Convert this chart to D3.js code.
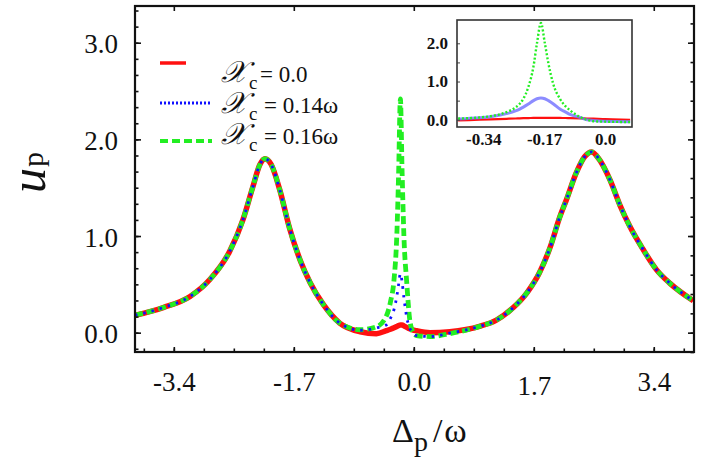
<!DOCTYPE html>
<html>
<head>
<meta charset="utf-8">
<script src="https://cdn.jsdelivr.net/npm/d3@7"></script>
<style>
  html, body { margin: 0; padding: 0; background: #fff; }
  svg { display: block; }
</style>
</head>
<body>
<svg id="chart" width="706" height="464" font-family="Liberation Serif"></svg>
<script>
// values
const mainX = [-3.95, -3.55, -3.17, -2.89, -2.61, -2.42, -2.28, -2.18, -2.11, -2.02, -1.90, -1.76,
  -1.61, -1.47, -1.28, -1.05, -0.76, -0.53, -0.39, -0.33, -0.28, -0.24, -0.215, -0.19, -0.165,
  -0.14, -0.10, -0.06, -0.02, 0.04, 0.23, 0.51, 0.93, 1.17, 1.41, 1.60, 1.78, 1.93, 2.07, 2.16,
  2.30, 2.42, 2.52, 2.63, 2.78, 2.92, 3.06, 3.25, 3.44, 3.63, 3.96];
const redY = [0.18, 0.26, 0.375, 0.55, 0.84, 1.17, 1.51, 1.74, 1.80, 1.74, 1.48, 1.08,
  0.75, 0.52, 0.29, 0.10, 0.01, -0.01, 0.02, 0.035, 0.05, 0.065, 0.075, 0.08, 0.08,
  0.07, 0.055, 0.04, 0.03, 0.02, 0.0, 0.01, 0.065, 0.13, 0.26, 0.41, 0.62, 0.88, 1.20, 1.37,
  1.65, 1.82, 1.87, 1.79, 1.58, 1.32, 1.10, 0.86, 0.65, 0.51, 0.33];
const blueY = [0.18, 0.26, 0.375, 0.55, 0.84, 1.17, 1.51, 1.74, 1.80, 1.74, 1.48, 1.08,
  0.75, 0.52, 0.29, 0.10, 0.025, 0.05, 0.08, 0.15, 0.24, 0.38, 0.50, 0.61, 0.52,
  0.36, 0.16, 0.05, 0.0, -0.03, -0.04, -0.005, 0.065, 0.13, 0.26, 0.41, 0.62, 0.88, 1.20, 1.37,
  1.65, 1.82, 1.87, 1.79, 1.58, 1.32, 1.10, 0.86, 0.65, 0.51, 0.33];
const greenY = [0.18, 0.26, 0.375, 0.55, 0.84, 1.17, 1.51, 1.74, 1.80, 1.74, 1.48, 1.08,
  0.75, 0.52, 0.29, 0.10, 0.03, 0.06, 0.17, 0.32, 0.55, 1.02, 1.65, 2.42, 1.65,
  1.0, 0.52, 0.15, 0.02, -0.03, -0.04, -0.01, 0.065, 0.13, 0.26, 0.41, 0.62, 0.88, 1.20, 1.37,
  1.65, 1.82, 1.87, 1.79, 1.58, 1.32, 1.10, 0.86, 0.65, 0.51, 0.33];

const insetX = [-0.41, -0.35, -0.32, -0.275, -0.25, -0.238, -0.228, -0.214, -0.20, -0.19, -0.179,
  -0.168, -0.158, -0.145, -0.126, -0.11, -0.098, -0.07, -0.05, -0.033, 0.0, 0.07];
const insetRedY = [-0.02, 0.0, 0.01, 0.025, 0.032, 0.036, 0.04, 0.043, 0.047, 0.049, 0.05,
  0.05, 0.05, 0.049, 0.047, 0.045, 0.043, 0.037, 0.032, 0.027, 0.018, 0.0];
const insetBlueY = [0.02, 0.05, 0.08, 0.16, 0.23, 0.28, 0.33, 0.41, 0.50, 0.55, 0.57,
  0.55, 0.50, 0.42, 0.28, 0.20, 0.14, 0.06, 0.0, -0.02, -0.04, -0.05];
const insetGreenY = [0.03, 0.06, 0.09, 0.20, 0.32, 0.42, 0.55, 0.86, 1.38, 2.0, 2.53,
  2.0, 1.47, 0.95, 0.55, 0.35, 0.25, 0.07, 0.0, -0.04, -0.05, -0.06];

const xTicks = [-3.4, -1.7, 0, 1.7, 3.4];
const xTickLabels = ['-3.4', '-1.7', '0.0', '1.7', '3.4'];
const yTicks = [0, 1, 2, 3];
const yTickLabels = ['0.0', '1.0', '2.0', '3.0'];
const insetXTicks = [-0.34, -0.17, 0];
const insetXTickLabels = ['-0.34', '-0.17', '0.0'];
const insetYTicks = [0, 1, 2];
const insetYTickLabels = ['0.0', '1.0', '2.0'];
const legendValues = ['0.0', '0.14ω', '0.16ω'];

const RED = '#ff1010', BLUE = '#1010ff', GREEN = '#22ee22';
const SERIF = 'Liberation Serif';

const svg = d3.select('#chart');
const box = { left: 135, right: 694, top: 6, bottom: 352 };

const x = d3.scaleLinear().domain([-3.95, 3.97]).range([box.left, box.right]);
const y = d3.scaleLinear().domain([-0.2, 3.38]).range([box.bottom, box.top]);

svg.append('clipPath').attr('id', 'plot-clip')
  .append('rect')
  .attr('x', box.left).attr('y', box.top)
  .attr('width', box.right - box.left).attr('height', box.bottom - box.top);

const toPts = (xs, ys) => xs.map((v, i) => ({ x: v, y: ys[i] }));

const lineGen = d3.line().x(d => x(d.x)).y(d => y(d.y)).curve(d3.curveMonotoneX);

// red underneath, green dashes over it, blue dots on top
const series = [
  { id: 'red', values: toPts(mainX, redY), color: RED, width: 5.5, dash: null },
  { id: 'green', values: toPts(mainX, greenY), color: GREEN, width: 4.8, dash: '8 4' },
  { id: 'blue', values: toPts(mainX, blueY), color: BLUE, width: 2.8, dash: '2.5 6' },
];

const lineLayer = svg.append('g').attr('clip-path', 'url(#plot-clip)');
lineLayer.selectAll('path.series').data(series).join('path')
  .attr('class', 'series')
  .attr('fill', 'none')
  .attr('stroke', d => d.color)
  .attr('stroke-width', d => d.width)
  .attr('stroke-dasharray', d => d.dash)
  .attr('d', d => lineGen(d.values));

// axes: ticks point inward, no domain path (frame drawn separately)
const minorX = d3.range(-9, 10).map(k => k * 0.425);
const minorLeft = d3.range(-1, 21).map(k => k / 6).filter(v => v >= -0.2 && v <= 3.38);
const minorRight = d3.range(-1, 17).map(k => k / 5).filter(v => v >= -0.2 && v <= 3.38);

function styleAxis(g) {
  g.attr('font-family', SERIF);
  g.select('.domain').remove();
  g.selectAll('line').attr('stroke', '#111').attr('stroke-width', 1.6);
  g.selectAll('text').attr('fill', '#111');
}

svg.append('g').attr('transform', `translate(0,${box.bottom})`)
  .call(d3.axisBottom(x).tickValues(minorX).tickSize(-3.5).tickFormat(''))
  .call(styleAxis);
const xAxisG = svg.append('g').attr('transform', `translate(0,${box.bottom})`)
  .call(d3.axisBottom(x).tickValues(xTicks).tickSizeInner(-5).tickSizeOuter(0).tickPadding(20)
    .tickFormat((d, i) => xTickLabels[i]))
  .call(styleAxis);
xAxisG.selectAll('text').attr('font-size', 27);
// the "1.7" label sits a little lower in the original
xAxisG.selectAll('text').filter(d => d === 1.7).attr('dy', '0.86em');

svg.append('g').attr('transform', `translate(0,${box.top})`)
  .call(d3.axisTop(x).tickValues(xTicks).tickSize(-5).tickFormat(''))
  .call(styleAxis);

svg.append('g').attr('transform', `translate(${box.left},0)`)
  .call(d3.axisLeft(y).tickValues(minorLeft).tickSize(-3.5).tickFormat(''))
  .call(styleAxis);
const yAxisG = svg.append('g').attr('transform', `translate(${box.left},0)`)
  .call(d3.axisLeft(y).tickValues(yTicks).tickSizeInner(-6).tickSizeOuter(0).tickPadding(17)
    .tickFormat((d, i) => yTickLabels[i]))
  .call(styleAxis);
yAxisG.selectAll('text').attr('font-size', 27).attr('dy', '0.38em');

svg.append('g').attr('transform', `translate(${box.right},0)`)
  .call(d3.axisRight(y).tickValues(minorRight).tickSize(-3.5).tickFormat(''))
  .call(styleAxis);
svg.append('g').attr('transform', `translate(${box.right},0)`)
  .call(d3.axisRight(y).tickValues(yTicks).tickSize(-6).tickFormat(''))
  .call(styleAxis);

svg.append('rect')
  .attr('x', box.left).attr('y', box.top)
  .attr('width', box.right - box.left).attr('height', box.bottom - box.top)
  .attr('fill', 'none').attr('stroke', '#111').attr('stroke-width', 2.2);

// axis titles
const xTitle = svg.append('text').attr('x', 392).attr('y', 442)
  .attr('font-size', 34).attr('fill', '#111');
xTitle.append('tspan').text('Δ');
xTitle.append('tspan').attr('font-size', 28).attr('dy', 9).text('p');
xTitle.append('tspan').attr('dy', -9).attr('dx', 5).text('/');
xTitle.append('tspan').attr('dx', 2).text('ω');

const yTitle = svg.append('text').attr('transform', 'translate(45,193) rotate(-90)')
  .attr('fill', '#111');
yTitle.append('tspan').attr('font-size', 50).attr('font-style', 'italic').text('u');
yTitle.append('tspan').attr('font-size', 30).attr('dx', 1).attr('dy', -2).text('p');

// legend: symbol, subscript and value kept as separate texts so they do not collide
const legendRows = [
  { color: RED, width: 3.5, dash: null, x2: 186, ly: 63, ty: 82, eqX: 260 },
  { color: BLUE, width: 3.2, dash: '2 2', x2: 212, ly: 103, ty: 113, eqX: 264 },
  { color: GREEN, width: 4, dash: '8 4', x2: 212, ly: 141, ty: 144, eqX: 264 },
];
const legend = svg.append('g').attr('fill', '#111');
legendRows.forEach((r, i) => {
  legend.append('line')
    .attr('x1', 160).attr('x2', r.x2).attr('y1', r.ly).attr('y2', r.ly)
    .attr('stroke', r.color).attr('stroke-width', r.width)
    .attr('stroke-dasharray', r.dash);
  legend.append('text').attr('x', 221).attr('y', r.ty)
    .attr('font-size', 30).attr('font-style', 'italic').text('𝒳');
  legend.append('text').attr('x', 249).attr('y', r.ty + 7)
    .attr('font-size', 19).text('c');
  legend.append('text').attr('x', r.eqX).attr('y', r.ty)
    .attr('font-size', 23).text('= ' + legendValues[i]);
});

// inset
const ibox = { left: 457, right: 632, top: 20, bottom: 127 };
const ix = d3.scaleLinear().domain([-0.413, 0.075]).range([ibox.left, ibox.right]);
const iy = d3.scaleLinear().domain([-0.19, 2.61]).range([ibox.bottom, ibox.top]);
const inset = svg.append('g');
inset.append('rect')
  .attr('x', ibox.left).attr('y', ibox.top)
  .attr('width', ibox.right - ibox.left).attr('height', ibox.bottom - ibox.top)
  .attr('fill', '#fff');
svg.append('clipPath').attr('id', 'inset-clip')
  .append('rect')
  .attr('x', ibox.left).attr('y', ibox.top)
  .attr('width', ibox.right - ibox.left).attr('height', ibox.bottom - ibox.top);

const iLine = d3.line().x(d => ix(d.x)).y(d => iy(d.y)).curve(d3.curveMonotoneX);
const insetSeries = [
  { id: 'red', values: toPts(insetX, insetRedY), color: RED, width: 2.2, dash: null, op: 1 },
  { id: 'blue', values: toPts(insetX, insetBlueY), color: '#6f6fff', width: 3, dash: null, op: 0.8 },
  { id: 'green', values: toPts(insetX, insetGreenY), color: GREEN, width: 2.4, dash: '2 2', op: 1 },
];
inset.append('g').attr('clip-path', 'url(#inset-clip)')
  .selectAll('path').data(insetSeries).join('path')
  .attr('fill', 'none')
  .attr('stroke', d => d.color)
  .attr('stroke-width', d => d.width)
  .attr('stroke-dasharray', d => d.dash)
  .attr('stroke-opacity', d => d.op)
  .attr('d', d => iLine(d.values));

function styleInsetAxis(g) {
  g.attr('font-family', SERIF);
  g.select('.domain').remove();
  g.selectAll('line').attr('stroke', '#444').attr('stroke-width', 1);
  g.selectAll('text').attr('fill', '#111').attr('font-size', 17).attr('font-weight', 'bold');
}
inset.append('g').attr('transform', `translate(${ibox.left},0)`)
  .call(d3.axisLeft(iy).tickValues(d3.range(0, 5).map(k => k * 0.5)).tickSize(-3).tickFormat(''))
  .call(styleInsetAxis);
inset.append('g').attr('transform', `translate(${ibox.left},0)`)
  .call(d3.axisLeft(iy).tickValues(insetYTicks).tickSize(0).tickPadding(9)
    .tickFormat((d, i) => insetYTickLabels[i]))
  .call(styleInsetAxis);
inset.append('g').attr('transform', `translate(0,${ibox.bottom})`)
  .call(d3.axisBottom(ix).tickValues(insetXTicks).tickSize(0).tickPadding(6)
    .tickFormat((d, i) => insetXTickLabels[i]))
  .call(styleInsetAxis);
inset.append('rect')
  .attr('x', ibox.left).attr('y', ibox.top)
  .attr('width', ibox.right - ibox.left).attr('height', ibox.bottom - ibox.top)
  .attr('fill', 'none').attr('stroke', '#333').attr('stroke-width', 1.6);
</script>
</body>
</html>
